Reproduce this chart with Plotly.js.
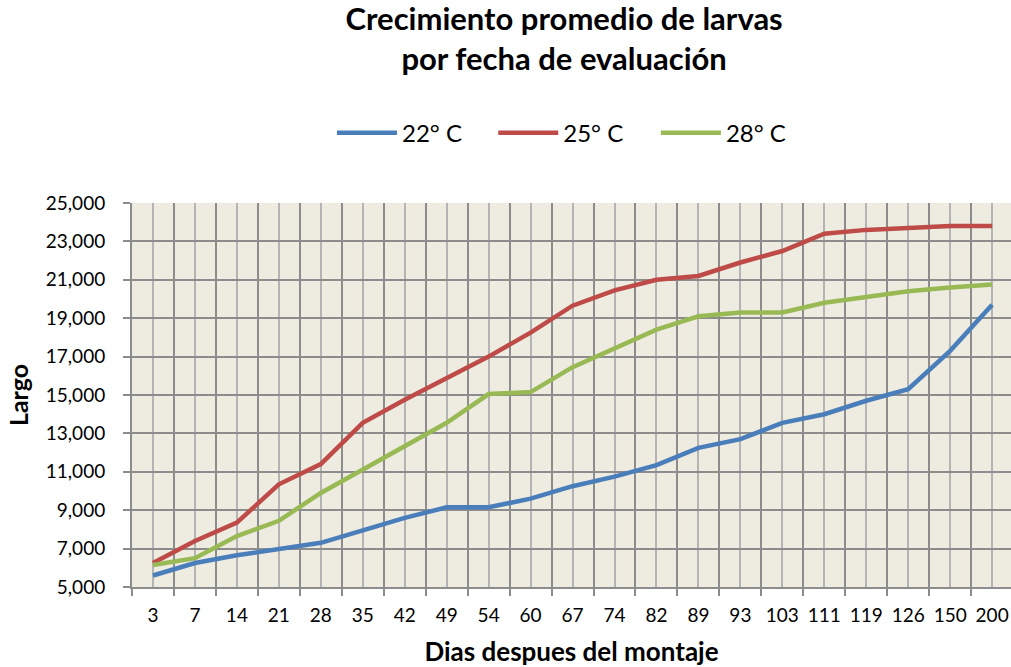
<!DOCTYPE html>
<html>
<head>
<meta charset="utf-8">
<script src="https://cdn.plot.ly/plotly-3.0.1.min.js"></script>
<style>html,body{margin:0;padding:0;background:#fff;}#chart{width:1011px;height:667px;}</style>
</head>
<body>
<div id="chart"></div>
<script>
const dias = ['3','7','14','21','28','35','42','49','54','60','67','74','82','89','93','103','111','119','126','150','200'];
const temp22 = [5600, 6250, 6650, 7000, 7300, 7950, 8600, 9150, 9150, 9600, 10250, 10750, 11350, 12250, 12700, 13550, 14000, 14700, 15300, 17300, 19700];
const temp25 = [6250, 7400, 8350, 10350, 11400, 13550, 14750, 15850, 17000, 18250, 19650, 20450, 21000, 21200, 21900, 22500, 23400, 23600, 23700, 23800, 23800];
const temp28 = [6150, 6500, 7650, 8450, 9900, 11100, 12300, 13550, 15050, 15150, 16450, 17450, 18400, 19100, 19300, 19300, 19800, 20100, 20400, 20600, 20750];
const seriesNames = ['22° C', '25° C', '28° C'];
const seriesColors = ['#4A7EBB', '#BE4B48', '#98B954'];
const legendIds = ['legend', 'legend2', 'legend3'];

const idx = dias.map((d, i) => i);
const data = [temp22, temp25, temp28].map((vals, k) => ({
  x: idx, y: vals, type: 'scatter', mode: 'lines', name: seriesNames[k],
  legend: legendIds[k],
  line: {color: seriesColors[k], width: 4.5}, hoverinfo: 'x+y'
}));

const font = 'Lato, "Open Sans", sans-serif';
function legendAt(xp) {
  return {
    orientation: 'h', x: xp, xanchor: 'left', y: 1.182, yanchor: 'middle',
    font: {family: font, size: 24, color: '#000000'}, itemwidth: 60,
    bgcolor: 'rgba(0,0,0,0)'
  };
}
const layout = {
  width: 1011, height: 667,
  paper_bgcolor: '#ffffff', plot_bgcolor: '#EEECE1',
  margin: {l: 132, r: 0, t: 203, b: 80, autoexpand: false},
  font: {family: font, color: '#000000', size: 19},
  title: {
    text: '<b>Crecimiento promedio de larvas<br>por fecha de evaluación</b>',
    font: {family: font, size: 31, color: '#000000'},
    x: 0.558, xref: 'container', xanchor: 'center',
    y: 0.955, yref: 'container', yanchor: 'top'
  },
  showlegend: true,
  legend: legendAt(0.2275),
  legend2: legendAt(0.411),
  legend3: legendAt(0.596),
  xaxis: {
    range: [-0.5, 20.45],
    tickmode: 'array', tickvals: idx, ticktext: dias, tickangle: 0,
    ticks: '', ticklabelstandoff: 10,
    showgrid: true, gridcolor: '#B4B4B4', gridwidth: 2,
    minor: {tick0: -0.5, dtick: 1, showgrid: true, gridcolor: '#8C8C8C', gridwidth: 2,
            ticks: 'outside', ticklen: 7, tickcolor: '#8C8C8C', tickwidth: 2},
    showline: true, linecolor: '#8C8C8C', linewidth: 2,
    zeroline: false,
    tickfont: {family: font, size: 19, color: '#000000'},
    title: {text: '<b>Dias despues del montaje</b>', font: {family: font, size: 26, color: '#000000'}, standoff: 19},
    fixedrange: true
  },
  yaxis: {
    range: [5000, 25000], dtick: 2000, tick0: 5000,
    tickformat: ',d',
    ticks: 'outside', ticklen: 7, tickcolor: '#8C8C8C', tickwidth: 2,
    ticklabelstandoff: 14,
    showgrid: true, gridcolor: '#8C8C8C', gridwidth: 2,
    showline: true, linecolor: '#8C8C8C', linewidth: 2,
    zeroline: false,
    tickfont: {family: font, size: 19, color: '#000000'},
    title: {text: '<b>Largo</b>', font: {family: font, size: 25, color: '#000000'}, standoff: 10},
    fixedrange: true
  }
};

Plotly.newPlot('chart', data, layout, {displayModeBar: false, staticPlot: true});
</script>
</body>
</html>
